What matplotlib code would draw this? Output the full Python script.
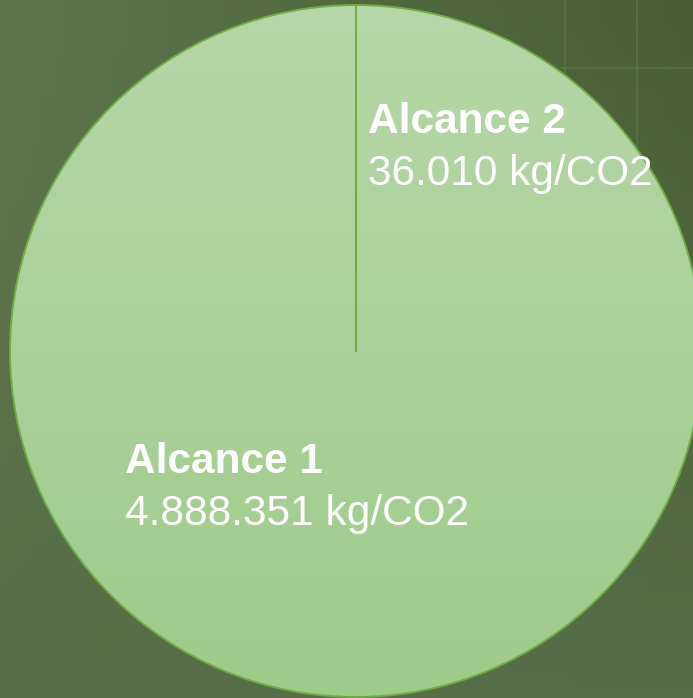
import matplotlib
matplotlib.use('Agg')
import matplotlib.pyplot as plt
from matplotlib.patches import Circle
import numpy as np

labels = ['Alcance 1', 'Alcance 2']
values = [4888351, 36010]
unit = 'kg/CO2'

# label anchor (pixels, y up) for each slice
label_pos = [(125, 225), (368, 565)]

W, H = 693, 698
fig = plt.figure(figsize=(W / 100, H / 100), dpi=100)
ax = fig.add_axes([0, 0, 1, 1])

# dark green backdrop, a little darker to the upper right
c_tl = np.array([0x5d, 0x75, 0x4c]) / 255
c_tr = np.array([0x48, 0x5f, 0x35]) / 255
c_bl = np.array([0x57, 0x6f, 0x48]) / 255
c_br = np.array([0x56, 0x6e, 0x47]) / 255
u = np.linspace(0, 1, 64)[None, :, None]
v = np.linspace(0, 1, 64)[:, None, None]
bg = (1 - v) * ((1 - u) * c_tl + u * c_tr) + v * ((1 - u) * c_bl + u * c_br)
ax.imshow(bg, extent=(0, W, 0, H), origin='upper', aspect='auto', zorder=0)
# faint window frame in the photo
for x in (565, 637):
    ax.plot([x, x], [H, 430], color='#6c8a5a', lw=1.5, alpha=0.3, zorder=0.5)
ax.plot([560, W], [H - 68, H - 68], color='#6c8a5a', lw=1.5, alpha=0.3, zorder=0.5)

cx, cy, r = 356, H - 351, 346
wedges, _ = ax.pie(values, startangle=90, counterclock=True, center=(cx, cy),
                   radius=r, frame=True,
                   wedgeprops=dict(linewidth=0, facecolor='none'))
ax.set_xlim(0, W)
ax.set_ylim(0, H)
ax.set_aspect('auto')
ax.axis('off')

# one gradient fill for the whole disc (same colour for both slices)
top = np.array([0xb6, 0xd7, 0xa9]) / 255
bot = np.array([0x9f, 0xcb, 0x8a]) / 255
t = np.linspace(0, 1, 256)[:, None, None]
grad = np.repeat((1 - t) * top + t * bot, 2, axis=1)
disc = Circle((cx, cy), r, facecolor='none', edgecolor='none')
ax.add_patch(disc)
im = ax.imshow(grad, extent=(cx - r, cx + r, cy - r, cy + r),
               origin='upper', aspect='auto', zorder=1)
im.set_clip_path(disc)

edge = '#6fac46'
ax.add_patch(Circle((cx, cy), r, facecolor='none', edgecolor=edge, lw=1.4, zorder=2))
ang = np.deg2rad(wedges[0].theta1)
ax.plot([cx, cx + r * np.cos(ang)], [cy, cy + r * np.sin(ang)], color=edge, lw=1.4, zorder=2)

for lab, val, (x, y) in zip(labels, values, label_pos):
    ax.text(x, y, lab, color='white', fontsize=30.5, fontweight='bold',
            family='Liberation Sans', va='baseline', ha='left', zorder=3)
    ax.text(x, y - 52, f"{val:,}".replace(',', '.') + ' ' + unit, color='white',
            fontsize=30.5, family='Liberation Sans', va='baseline', ha='left', zorder=3)

fig.savefig('out.png', dpi=100)
